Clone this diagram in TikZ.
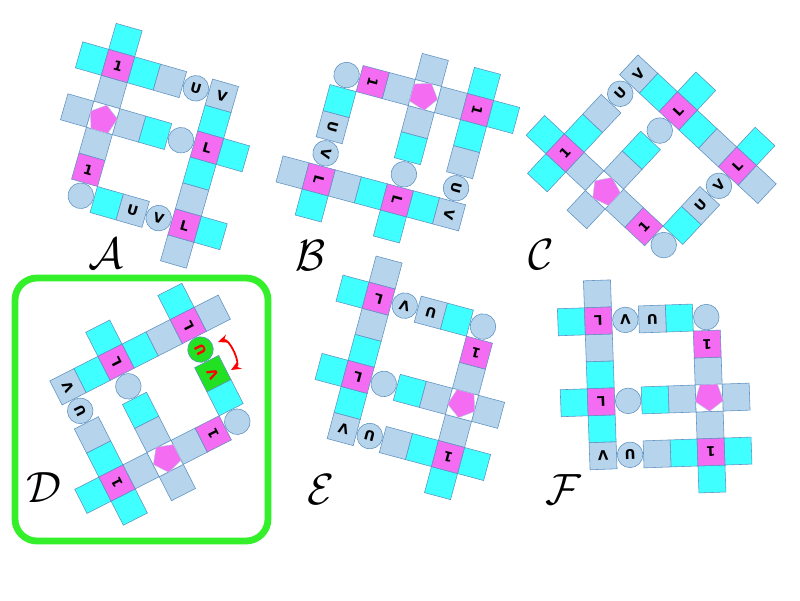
\documentclass[tikz,border=0pt]{standalone}
\usepackage{fontspec}
\usetikzlibrary{shapes.geometric,arrows.meta}

\newfontfamily\cellfont{DejaVu Sans}

\definecolor{cellcyan}{HTML}{3FFFFF}
\definecolor{cellgray}{HTML}{B6D4EC}
\definecolor{cellpink}{HTML}{F46CF2}
\definecolor{celledge}{HTML}{5E92C2}
\definecolor{hilite}{HTML}{22E022}
\definecolor{framegreen}{HTML}{33F02A}

% one figure of the puzzle: name, place of the top "1", turn,
% style and text of the square (3,6), style and text of the circle (4,6)
\newcommand{\puzzlefig}[7]{%
  \begin{scope}[shift={#2}, rotate=#3, transform shape]
    % cyan squares
    \foreach \c/\r in {1/0,0/1,2/1,5/2,3/3,6/3,5/4,2/6,6/6}
      \node[cyancell] (#1-\c-\r) at ({(\c-1)*27},{(\r-1)*27}) {};
    % grey squares
    \foreach \c/\r/\t in {3/1/{},5/1/V,1/2/{},1/4/{},0/3/{},2/3/{},5/5/{},5/7/{}}
      \node[graycell] (#1-\c-\r) at ({(\c-1)*27},{(\r-1)*27}) {\t};
    % pink squares
    \foreach \c/\r/\t in {1/1/1,1/5/1,5/3/L,5/6/L}
      \node[pinkcell] (#1-\c-\r) at ({(\c-1)*27},{(\r-1)*27}) {\t};
    % circles
    \foreach \c/\r/\t in {4/1/U,4/3/{},1/6/{}}
      \node[roundcell] (#1-\c-\r) at ({(\c-1)*27},{(\r-1)*27}) {\t};
    % pentagon
    \node[blankcell] (#1-1-3) at (0,54) {};
    \node[pentshape] (#1-pent) at (0,55.6) {};
    % the two cells of the last row
    \node[#4] (#1-3-6) at (54,135) {#5};
    \node[#6] (#1-4-6) at (81,135) {#7};
  \end{scope}}

\begin{document}
\begin{tikzpicture}[x=0.025cm, y=-0.025cm,
    cellbase/.style={draw=celledge, line width=0.4pt, inner sep=0pt, outer sep=0pt,
      font=\cellfont\bfseries\fontsize{9.5}{11}\selectfont},
    cyancell/.style={cellbase, rectangle, minimum size=0.675cm, fill=cellcyan},
    graycell/.style={cellbase, rectangle, minimum size=0.675cm, fill=cellgray},
    pinkcell/.style={cellbase, rectangle, minimum size=0.675cm, fill=cellpink},
    roundcell/.style={cellbase, circle, minimum size=0.64cm, fill=cellgray},
    blankcell/.style={cellbase, rectangle, minimum size=0.675cm, fill=white},
    pentshape/.style={regular polygon, regular polygon sides=5, minimum size=0.74cm,
      inner sep=0pt, fill=cellpink, draw=celledge!50, line width=0.3pt},
    swapsq/.style={cellbase, rectangle, minimum size=0.675cm, fill=hilite, text=red},
    swapround/.style={cellbase, circle, minimum size=0.64cm, fill=hilite, text=red},
    panelname/.style={font=\Huge, scale=1.25}]
  \useasboundingbox (0,0) rectangle (800,600);

  % frame round the answer
  \draw[framegreen, line width=0.17cm, rounded corners=0.55cm] (15,278) rectangle (268,541);

  % the six figures
  \puzzlefig{A}{(118,66)}{-16}{graycell}{U}{roundcell}{V}
  \puzzlefig{B}{(477,110)}{-105}{graycell}{U}{roundcell}{V}
  \puzzlefig{C}{(565,153)}{47}{graycell}{U}{roundcell}{V}
  \puzzlefig{D}{(117,483)}{117}{swapsq}{V}{swapround}{U}
  \puzzlefig{E}{(448,457)}{-195}{graycell}{U}{roundcell}{V}
  \puzzlefig{F}{(711,452)}{-178}{graycell}{U}{roundcell}{V}

  % swap arrow
  \coordinate (swapA) at (218,342);
  \coordinate (swapB) at (231,370);
  \draw[red, line width=1.3pt, {Stealth[length=7pt,width=6pt]}-{Stealth[length=7pt,width=6pt]}] (swapA) to[bend left=85] (swapB);

  % names
  \node[panelname] (nameA) at (106,254) {$\mathcal{A}$};
  \node[panelname] (nameB) at (311,256) {$\mathcal{B}$};
  \node[panelname] (nameC) at (541,255) {$\mathcal{C}$};
  \node[panelname] (nameD) at (44,488) {$\mathcal{D}$};
  \node[panelname] (nameE) at (321,490) {$\mathcal{E}$};
  \node[panelname] (nameF) at (563,490) {$\mathcal{F}$};
\end{tikzpicture}
\end{document}
